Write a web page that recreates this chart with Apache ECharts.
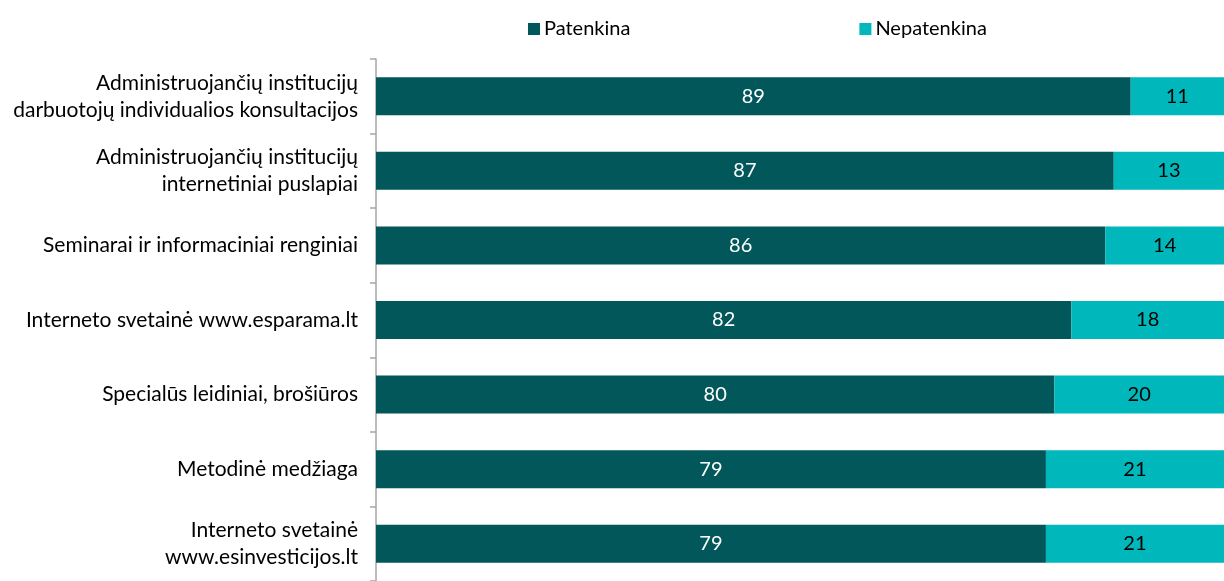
<!DOCTYPE html>
<html><head><meta charset="utf-8">
<script src="https://cdn.jsdelivr.net/npm/echarts@6/dist/echarts.min.js"></script>
<style>html,body{margin:0;padding:0;background:#fff}#c{width:1224px;height:581px}</style>
</head><body><div id="c"></div>
<script>
const categories = [
  "Administruojančių institucijų\ndarbuotojų individualios konsultacijos",
  "Administruojančių institucijų\ninternetiniai puslapiai",
  "Seminarai ir informaciniai renginiai",
  "Interneto svetainė www.esparama.lt",
  "Specialūs leidiniai, brošiūros",
  "Metodinė medžiaga",
  "Interneto svetainė\nwww.esinvesticijos.lt"
];
const patenkina = [89, 87, 86, 82, 80, 79, 79];
const nepatenkina = [11, 13, 14, 18, 20, 21, 21];
const seriesNames = ["Patenkina", "Nepatenkina"];

const FONT = "Lato";
const chart = echarts.init(document.getElementById('c'));
chart.setOption({
  animation: false,
  textStyle: {fontFamily: FONT},
  legend: {
    top: 14, left: 523, itemGap: 229, itemWidth: 12, itemHeight: 12,
    icon: 'rect',
    textStyle: {fontFamily: FONT, fontSize: 20, color: '#000', padding: [0,0,0,-1]},
    data: seriesNames
  },
  grid: {left: 376, top: 59, width: 848, height: 531, containLabel: false},
  xAxis: {type: 'value', min: 0, max: 100, show: false},
  yAxis: {
    type: 'category', inverse: true, data: categories,
    axisLine: {show: true, lineStyle: {color: '#a6a6a6', width: 1.5}},
    axisTick: {show: true, length: 6, lineStyle: {color: '#a6a6a6', width: 1.5}},
    axisLabel: {fontFamily: FONT, fontSize: 21, color: '#000', margin: 18, lineHeight: 27, align: 'right'},
    splitLine: {show: false}
  },
  series: [
    {name: seriesNames[0], type: 'bar', stack: 's', data: patenkina, barWidth: '51%',
     itemStyle: {color: '#02575A'},
     label: {show: true, position: 'inside', color: '#fff', fontSize: 20, fontFamily: FONT}},
    {name: seriesNames[1], type: 'bar', stack: 's', data: nepatenkina, barWidth: '51%',
     itemStyle: {color: '#00B7BB'},
     label: {show: true, position: 'inside', color: '#000', fontSize: 20, fontFamily: FONT}}
  ]
});
</script></body></html>
